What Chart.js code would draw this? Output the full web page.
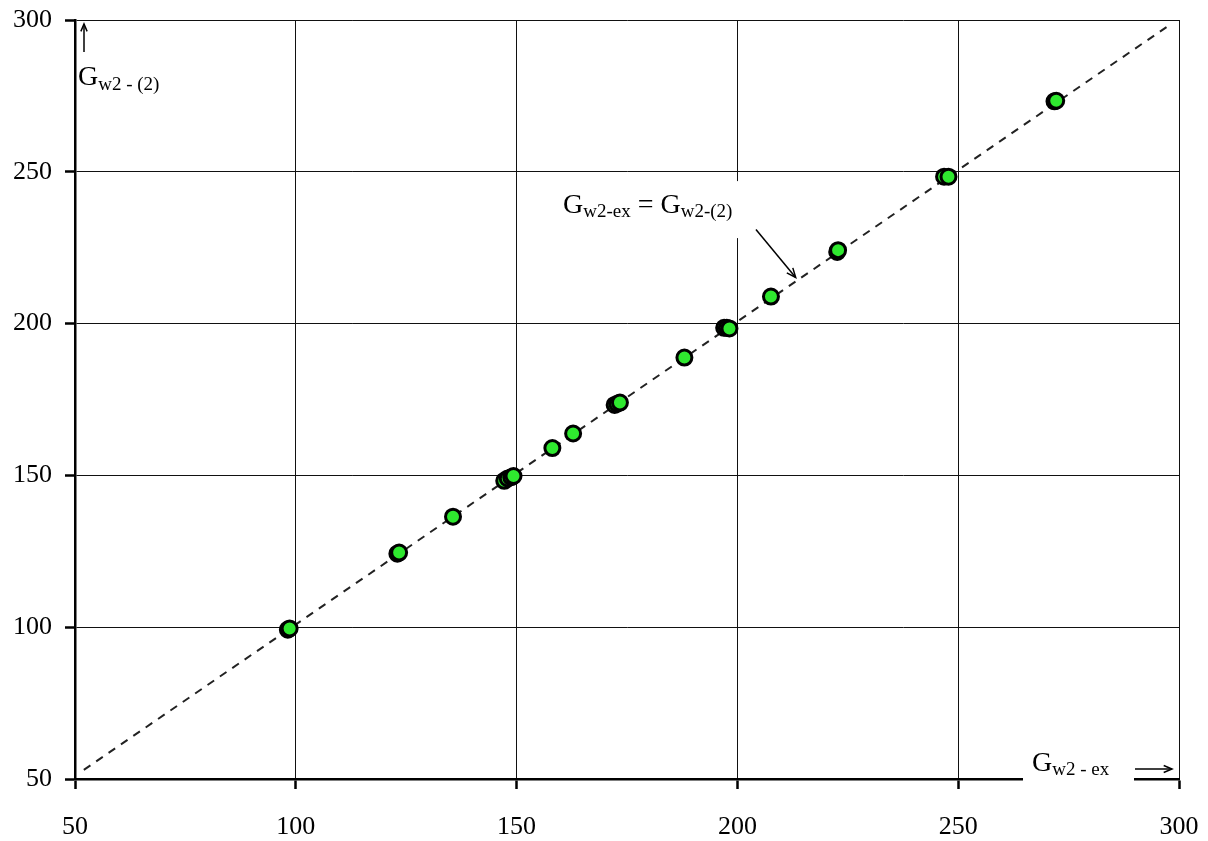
<!DOCTYPE html>
<html>
<head>
<meta charset="utf-8">
<script src="https://cdn.jsdelivr.net/npm/chart.js@4.4.0/dist/chart.umd.min.js"></script>
<style>
html,body{margin:0;padding:0;background:#fff;}
#wrap{width:1208px;height:841px;}
</style>
</head>
<body>
<div id="wrap"><canvas id="c" width="1208" height="841"></canvas></div>
<script>
// Data
const gw2Ex = [98.2, 98.6, 123.0, 123.4, 135.6, 147.2, 148.0, 148.8, 149.3, 158.1, 162.8, 172.2, 172.8, 173.4, 188.0, 197.0, 197.6, 198.2, 207.6, 222.6, 222.8, 246.8, 247.8, 271.8, 272.2];
const gw2Calc = [99.2, 99.6, 124.2, 124.6, 136.4, 148.2, 149.0, 149.4, 149.8, 159.0, 163.8, 173.2, 173.6, 174.0, 188.8, 198.6, 198.6, 198.4, 208.9, 223.6, 224.2, 248.4, 248.4, 273.2, 273.4];
const lineX = [52, 298];
const lineY = [53, 298.5];
const axisTicks = [50, 100, 150, 200, 250, 300];

const FONT = '"Liberation Serif", "Times New Roman", serif';

function subText(ctx, x, y, main, sub, mainSize, subSize, subDrop) {
  ctx.font = mainSize + 'px ' + FONT;
  ctx.fillText(main, x, y);
  const w = ctx.measureText(main).width;
  ctx.font = subSize + 'px ' + FONT;
  ctx.fillText(sub, x + w, y + subDrop);
  return x + w + ctx.measureText(sub).width;
}

function arrowHead(ctx, x1, y1, x2, y2, len) {
  const a = Math.atan2(y2 - y1, x2 - x1);
  ctx.beginPath();
  ctx.moveTo(x2 - len * Math.cos(a - 0.4), y2 - len * Math.sin(a - 0.4));
  ctx.lineTo(x2, y2);
  ctx.lineTo(x2 - len * Math.cos(a + 0.4), y2 - len * Math.sin(a + 0.4));
  ctx.stroke();
}

const annot = {
  id: 'annot',
  afterDraw(chart) {
    const ctx = chart.ctx;
    const xs = chart.scales.x, ys = chart.scales.y;
    const ca = chart.chartArea;
    ctx.save();
    ctx.fillStyle = '#000';
    ctx.strokeStyle = '#000';
    ctx.textBaseline = 'alphabetic';
    ctx.textAlign = 'left';

    // label box over grid
    const lx = xs.getPixelForValue(160.5), ly = ys.getPixelForValue(236.4);
    ctx.fillStyle = '#fff';
    ctx.fillRect(lx - 6, ly - 32, 190, 57);
    ctx.fillStyle = '#000';
    let ex = subText(ctx, lx, ly, 'G', 'w2-ex', 28, 19, 4);
    ctx.font = '28px ' + FONT;
    ctx.fillText(' = ', ex, ly);
    ex += ctx.measureText(' = ').width;
    subText(ctx, ex, ly, 'G', 'w2-(2)', 28, 19, 4);

    // arrow to line
    const ax1 = xs.getPixelForValue(204.2), ay1 = ys.getPixelForValue(231);
    const ax2 = xs.getPixelForValue(213.2), ay2 = ys.getPixelForValue(215.2);
    ctx.lineWidth = 1.5;
    ctx.beginPath(); ctx.moveTo(ax1, ay1); ctx.lineTo(ax2, ay2); ctx.stroke();
    arrowHead(ctx, ax1, ay1, ax2, ay2, 10);

    // y axis title
    const yx = ca.left + 3;
    ctx.beginPath(); ctx.moveTo(yx + 6, ca.top + 32); ctx.lineTo(yx + 6, ca.top + 4); ctx.stroke();
    arrowHead(ctx, yx + 6, ca.top + 32, yx + 6, ca.top + 4, 8);
    subText(ctx, yx, ca.top + 65, 'G', 'w2 - (2)', 28, 19, 5);

    // x axis title with white box over axis
    ctx.fillStyle = '#fff';
    ctx.fillRect(ca.right - 156, ca.bottom - 30, 111, 33);
    ctx.fillStyle = '#000';
    subText(ctx, ca.right - 147, ca.bottom - 8, 'G', 'w2 - ex', 28, 19, 4);
    ctx.beginPath(); ctx.moveTo(ca.right - 44, ca.bottom - 10); ctx.lineTo(ca.right - 7, ca.bottom - 10); ctx.stroke();
    arrowHead(ctx, ca.right - 44, ca.bottom - 10, ca.right - 7, ca.bottom - 10, 9);
    ctx.restore();
  }
};

const pts = gw2Ex.map((v, i) => ({x: v, y: gw2Calc[i]}));
const linePts = lineX.map((v, i) => ({x: v, y: lineY[i]}));

new Chart(document.getElementById('c'), {
  type: 'scatter',
  data: {
    datasets: [
      {
        type: 'line',
        data: linePts,
        borderColor: '#222',
        borderWidth: 2,
        borderDash: [8, 7],
        pointRadius: 0,
        fill: false,
        order: 2
      },
      {
        data: pts,
        backgroundColor: '#2fe82f',
        borderColor: '#000',
        borderWidth: 3,
        pointRadius: 7.5,
        order: 1
      }
    ]
  },
  options: {
    responsive: false,
    animation: false,
    devicePixelRatio: 1,
    layout: {padding: {top: 20, right: 29, left: 0, bottom: 0}},
    plugins: {legend: {display: false}, tooltip: {enabled: false}},
    scales: {
      x: {
        type: 'linear', min: 50, max: 300,
        afterBuildTicks: s => { s.ticks = axisTicks.map(v => ({value: v})); },
        afterFit: s => { s.height = 62; s.paddingLeft = 0; s.paddingRight = 0; },
        grid: {color: '#111', lineWidth: 1, tickLength: 10, tickColor: '#000', tickWidth: 2.5},
        border: {color: '#000', width: 2.5},
        ticks: {color: '#000', font: {family: FONT, size: 26}, padding: 23, maxRotation: 0}
      },
      y: {
        type: 'linear', min: 50, max: 300,
        afterBuildTicks: s => { s.ticks = axisTicks.map(v => ({value: v})); },
        afterFit: s => { s.width = 75; s.paddingTop = 0; s.paddingBottom = 0; },
        grid: {color: '#111', lineWidth: 1, tickLength: 10, tickColor: '#000', tickWidth: 2.5},
        border: {color: '#000', width: 2.5},
        ticks: {color: '#000', font: {family: FONT, size: 26}, padding: 13}
      }
    }
  },
  plugins: [annot]
});
</script>
</body>
</html>
